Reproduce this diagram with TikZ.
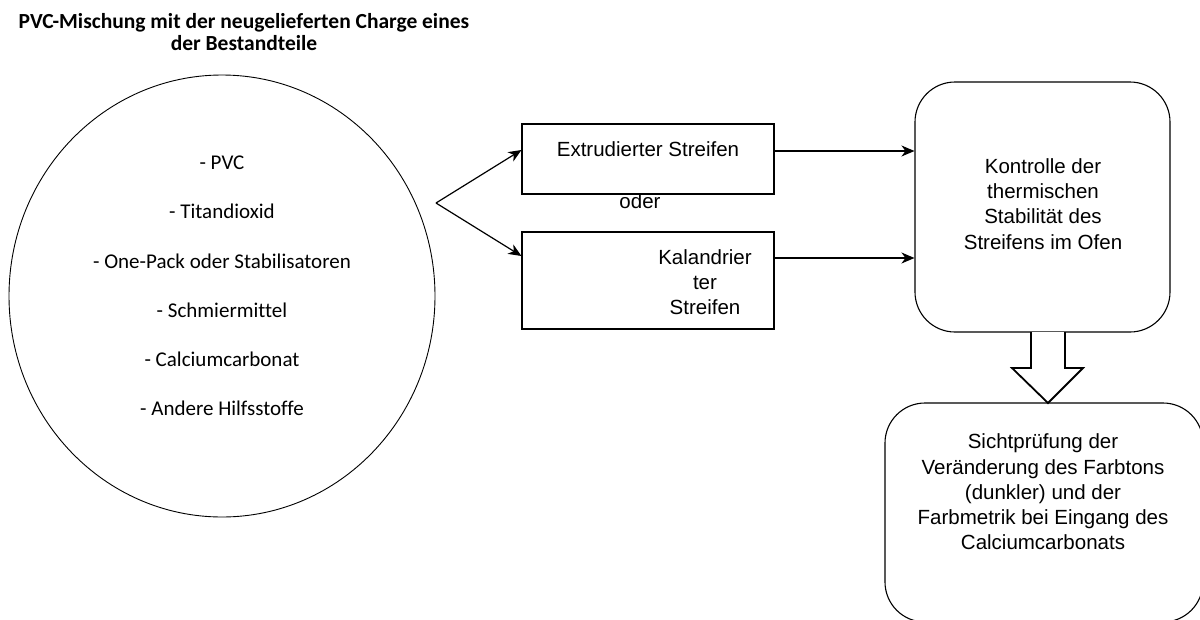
\documentclass[tikz,border=0pt]{standalone}
\usepackage{fontspec}
\usetikzlibrary{shapes.geometric,arrows.meta}
\newfontfamily\carlfont[Ligatures=NoCommon]{Carlito}
\newfontfamily\robofont{Liberation Sans}
\begin{document}
\begin{tikzpicture}[x=1pt,y=-1pt,
  box/.style={draw, line width=1.1pt, rectangle, inner sep=0pt},
  rbox/.style={draw, line width=1.1pt, rectangle, rounded corners=40pt, inner sep=0pt},
  arr/.style={line width=1.2pt, -{Stealth[length=13pt,width=11pt,inset=4pt]}},
  bodytext/.style={font=\robofont\fontsize{20.5}{25.3}\selectfont, align=center, inner sep=0pt},
  listtext/.style={font=\carlfont\fontsize{21}{49.2}\selectfont, align=center, inner sep=0pt}]
\useasboundingbox (0,0) rectangle (1200,619);
\fill[white] (0,0) rectangle (1200,619);

% title
\node[font=\carlfont\bfseries\fontsize{21.5}{22.5}\selectfont, align=center, inner sep=0pt] (title) at (244,32)
  {PVC-Mischung mit der neugelieferten Charge eines\\der Bestandteile};

% circle with ingredients
\node[draw, line width=0.9pt, ellipse, minimum width=426pt, minimum height=442pt, inner sep=0pt] (mix) at (222,296) {};
\node[listtext] (list) at (222,286) {- PVC\\- Titandioxid\\- One-Pack oder Stabilisatoren\\- Schmiermittel\\- Calciumcarbonat\\- Andere Hilfsstoffe};

% strip boxes
\node[box, minimum width=252pt, minimum height=70pt] (ext) at (648,159) {};
\node[bodytext] (extt) at (648,149) {Extrudierter Streifen};
\node[bodytext] (oder) at (640,201) {oder};
\node[box, minimum width=252pt, minimum height=97pt] (kal) at (648,280.5) {};
\node[bodytext] (kalt) at (705,282) {Kalandrier\\ter\\Streifen};

% control box
\node[rbox, minimum width=255pt, minimum height=250pt] (ctrl) at (1042.5,207) {};
\node[bodytext] (ctrlt) at (1043,204) {Kontrolle der\\thermischen\\Stabilität des\\Streifens im Ofen};

% visual check box (runs past the picture's right and bottom edges)
\node[rbox, minimum width=318pt, minimum height=219pt] (chk) at (1044,512.5) {};
\node[bodytext] (chkt) at (1043,492) {Sichtprüfung der\\Veränderung des Farbtons\\(dunkler) und der\\Farbmetrik bei Eingang des\\Calciumcarbonats};

% fork arrows
\coordinate (fork) at (436,203);
\draw[arr] (fork) -- ([yshift=9pt]ext.west);
\draw[arr] (fork) -- ([yshift=24.5pt]kal.west);

% arrows to control box
\draw[arr] ([yshift=8pt]ext.east) -- ([yshift=8pt]ext.east -| ctrl.west);
\draw[arr] ([yshift=22.5pt]kal.east) -- ([yshift=22.5pt]kal.east -| ctrl.west);

% hollow block arrow
\draw[line width=1.8pt, fill=white, line join=miter]
  (1031,332) -- (1031,368) -- (1012,368) -- (1048,403) -- (1083,368) -- (1065,368) -- (1065,332);
\end{tikzpicture}
\end{document}
